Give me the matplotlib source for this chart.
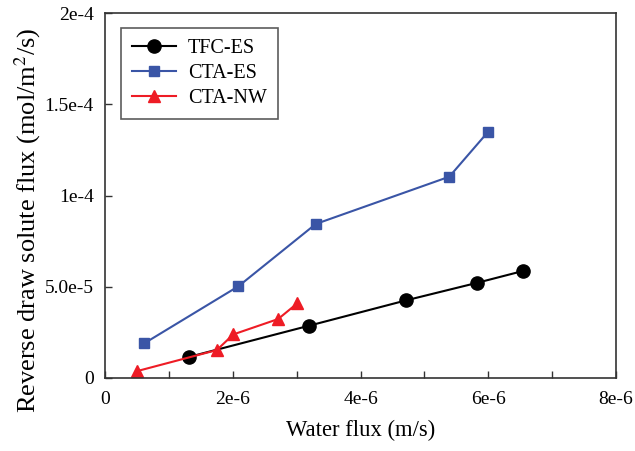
import matplotlib
matplotlib.use("Agg")
import matplotlib.pyplot as plt

plt.rcParams['font.family'] = ['Liberation Serif', 'DejaVu Serif']
plt.rcParams['mathtext.fontset'] = 'stix'

tfc_x = [1.32e-6, 3.20e-6, 4.72e-6, 5.82e-6, 6.54e-6]
tfc_y = [1.16e-5, 2.87e-5, 4.26e-5, 5.21e-5, 5.86e-5]
ctaes_x = [0.615e-6, 2.09e-6, 3.30e-6, 5.39e-6, 6.0e-6]
ctaes_y = [1.90e-5, 5.03e-5, 8.44e-5, 11.03e-5, 13.5e-5]
ctanw_x = [0.505e-6, 1.75e-6, 2.01e-6, 2.71e-6, 3.01e-6]
ctanw_y = [0.38e-5, 1.53e-5, 2.39e-5, 3.23e-5, 4.09e-5]

xticks = [0, 2e-6, 4e-6, 6e-6, 8e-6]
xticklabels = ['0', '2e-6', '4e-6', '6e-6', '8e-6']
xminor = [1e-6, 3e-6, 5e-6, 7e-6]
yticks = [0, 5e-5, 1e-4, 1.5e-4, 2e-4]
yticklabels = ['0', '5.0e-5', '1e-4', '1.5e-4', '2e-4']

fig = plt.figure(figsize=(6.35, 4.51), dpi=100)
ax = fig.add_axes([105/635, 73/451, 511/635, 365/451])

ax.plot(tfc_x, tfc_y, '-o', color='black', lw=1.5, ms=9.5, label='TFC-ES')
ax.plot(ctaes_x, ctaes_y, '-s', color='#3A55A6', lw=1.5, ms=7.8, label='CTA-ES')
ax.plot(ctanw_x, ctanw_y, '-^', color='#EE1C25', lw=1.5, ms=9, label='CTA-NW')

ax.set_xlim(0, 8e-6)
ax.set_ylim(0, 2e-4)
ax.set_xticks(xticks)
ax.set_xticklabels(xticklabels)
ax.set_xticks(xminor, minor=True)
ax.set_yticks(yticks)
ax.set_yticklabels(yticklabels)
ax.tick_params(which='both', direction='in', length=5, width=1, labelsize=14,
               color='#333333')
ax.tick_params(axis='x', pad=9)
ax.tick_params(axis='y', pad=8)
for s in ax.spines.values():
    s.set_linewidth(1.2)
    s.set_color('#333333')

ax.set_xlabel('Water flux (m/s)', fontsize=16.3, labelpad=9)
ax.set_ylabel('Reverse draw solute flux (mol/m$^2$/s)', fontsize=19)
ax.yaxis.set_label_coords(-0.121, 0.433)

leg = ax.legend(loc='upper left', bbox_to_anchor=(0.0307, 0.9597), borderaxespad=0,
                fontsize=14.5, frameon=True, fancybox=False, edgecolor='#333333',
                handlelength=2.2, handletextpad=0.6, borderpad=0.55,
                labelspacing=0.3)
leg.get_frame().set_linewidth(1.2)

fig.savefig('out.png', dpi=100)
